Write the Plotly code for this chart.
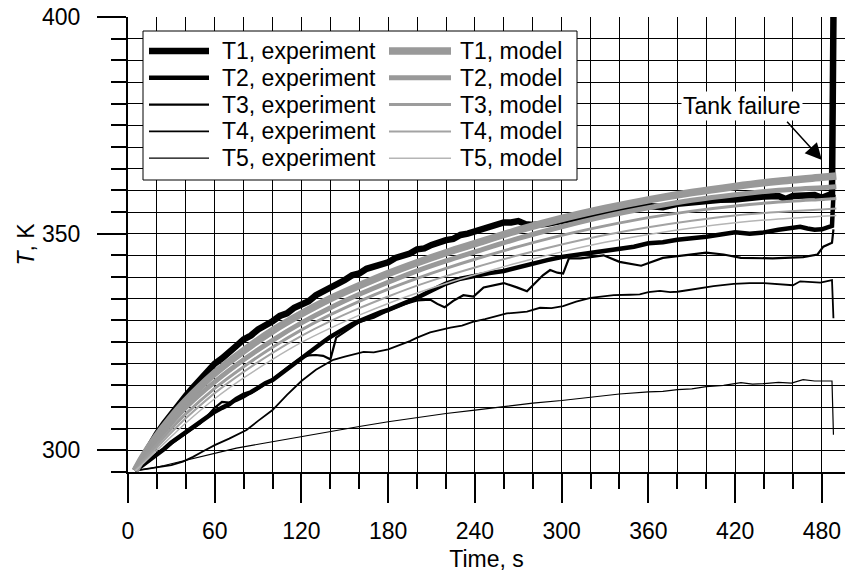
import plotly.graph_objects as go

# ---------------- data ----------------
# model curves (common time grid)
t_model = [5, 10, 20, 30, 40, 60, 80, 100, 120, 140, 160, 180, 200, 220, 240,
           270, 300, 330, 360, 390, 420, 450, 480, 490]
T1_model = [295.3, 298.3, 303.3, 307.6, 311.4, 317.8, 323.0, 327.6, 331.5, 335.0,
            338.0, 340.8, 343.3, 345.6, 347.7, 350.8, 353.5, 355.8, 357.8, 359.5,
            360.9, 362.1, 363.0, 363.3]
T2_model = [295.3, 297.8, 302.3, 306.3, 309.9, 315.8, 320.9, 325.4, 329.4, 332.9,
            336.0, 338.8, 341.4, 343.7, 345.8, 348.9, 351.6, 354.0, 356.0, 357.7,
            359.0, 360.0, 360.6, 360.8]
T3_model = [295.3, 297.4, 301.3, 305.0, 308.4, 314.3, 319.3, 323.8, 327.8, 331.3,
            334.4, 337.2, 339.7, 342.0, 344.1, 347.0, 349.6, 351.8, 353.7, 355.2,
            356.4, 357.3, 357.9, 358.1]
T4_model = [295.3, 297.0, 300.6, 304.1, 307.4, 313.2, 318.1, 322.5, 326.4, 329.8,
            332.8, 335.5, 338.0, 340.2, 342.2, 345.0, 347.5, 349.7, 351.5, 353.0,
            354.2, 355.0, 355.6, 355.8]
T5_model = [295.3, 296.8, 300.0, 303.2, 306.3, 311.9, 316.7, 321.0, 324.9, 328.2,
            331.2, 333.9, 336.3, 338.5, 340.5, 343.3, 345.8, 348.0, 349.8, 351.3,
            352.5, 353.4, 354.0, 354.2]

# experiments
t_exp1 = [5, 8, 12, 16, 20, 25, 30, 35, 40, 45, 50, 55, 60, 65, 70, 75, 80, 85, 90,
          95, 100, 105, 110, 115, 120, 125, 130, 135, 140, 145, 150, 155, 160, 165,
          170, 175, 180, 185, 190, 195, 200, 205, 210, 215, 220, 225, 230, 235, 240,
          245, 250, 255, 260, 265, 270, 275, 280, 290, 300, 310, 320, 330, 340, 350,
          360, 370, 380, 390, 400, 410, 420, 430, 440, 450, 455, 460, 470, 475, 480,
          485, 487, 488]
T1_exp = [295.3, 297.0, 299.5, 302.0, 303.8, 306.2, 308.5, 310.4, 312.6, 314.5, 316.5,
          318.3, 320.0, 321.2, 322.9, 324.1, 325.6, 326.5, 327.9, 328.7, 329.8, 331.0,
          331.6, 332.9, 333.8, 334.4, 335.8, 336.6, 337.7, 338.2, 339.3, 340.4, 340.8,
          341.9, 342.3, 343.0, 343.4, 344.4, 344.9, 345.4, 346.4, 346.6, 347.4, 348.1,
          348.5, 348.8, 349.7, 350.0, 350.5, 351.2, 351.4, 352.1, 352.6, 352.6, 352.9,
          352.2, 352.0, 352.3, 352.8, 353.6, 354.3, 354.9, 355.6, 356.2, 356.4, 356.1,
          356.9, 357.3, 357.5, 357.8, 357.9, 358.3, 358.6, 358.7, 358.0, 358.7, 359.0,
          358.9, 358.3, 359.1, 359.2, 400.0]

t_exp2 = [5, 10, 15, 20, 25, 30, 35, 40, 45, 50, 55, 60, 65, 70, 75, 80, 85, 90, 95,
          100, 105, 110, 115, 120, 125, 130, 135, 140, 145, 150, 155, 160, 165, 170,
          175, 180, 190, 200, 210, 220, 230, 240, 250, 260, 270, 280, 290, 300, 310,
          320, 330, 340, 350, 360, 370, 380, 390, 400, 410, 420, 430, 440, 450, 460,
          465, 470, 475, 480, 485, 487, 488]
T2_exp = [295.3, 296.5, 297.8, 299.2, 300.3, 301.8, 303.0, 304.0, 305.3, 306.5, 307.6,
          308.9, 309.8, 310.6, 311.9, 312.8, 313.4, 314.6, 315.5, 316.2, 317.5, 318.8,
          319.9, 321.2, 322.5, 323.8, 325.0, 326.2, 327.2, 328.2, 329.1, 329.8, 330.4,
          331.2, 331.9, 332.4, 333.8, 335.2, 336.9, 338.5, 339.6, 340.3, 340.9, 341.4,
          342.3, 343.2, 343.9, 344.6, 345.1, 345.4, 345.9, 346.5, 347.0, 347.8, 348.0,
          348.6, 348.9, 349.3, 349.8, 350.3, 350.0, 350.3, 350.9, 351.5, 351.6, 351.2,
          350.9, 351.0, 351.5, 351.8, 359.0]

t_exp3 = [5, 10, 15, 20, 25, 30, 40, 50, 55, 60, 65, 70, 75, 80, 90, 100, 110, 120,
          125, 130, 135, 140, 144, 150, 160, 170, 180, 190, 200, 209, 214, 219, 225,
          232, 239, 246, 260, 269, 276, 287, 292, 297, 301, 305, 313, 320, 329, 340,
          355, 370, 385, 400, 412, 424, 446, 467, 477, 481, 487, 488]
T3_exp = [295.3, 296.4, 297.6, 299.3, 300.2, 301.5, 303.8, 306.2, 307.9, 309.8, 311.2,
          311.0, 311.4, 312.2, 314.2, 316.4, 319.0, 321.4, 321.9, 322.0, 321.8, 321.0,
          326.0, 327.4, 329.6, 330.6, 332.2, 333.6, 334.6, 334.8, 333.8, 333.0, 334.5,
          335.8, 335.5, 337.6, 338.6, 337.6, 336.7, 340.4, 341.6, 341.0, 340.8, 344.3,
          344.3, 344.6, 345.0, 343.5, 342.6, 344.4, 345.0, 345.6, 345.2, 344.4, 344.3,
          344.6, 345.2, 347.0, 347.9, 351.0]

t_exp4 = [5, 15, 24, 30, 38, 45, 52, 60, 70, 82, 90, 100, 110, 120, 130, 142, 150, 163,
          170, 180, 195, 200, 209, 216, 223, 231, 239, 247, 255, 262, 269, 276, 285,
          293, 301, 310, 320, 327, 336, 347, 354, 360, 368, 375, 380, 388, 396, 405,
          419, 430, 440, 450, 460, 465, 472, 479, 487, 488]
T4_exp = [295.3, 295.8, 296.2, 296.6, 297.4, 298.5, 299.8, 301.2, 302.7, 304.7, 306.8,
          309.3, 312.8, 316.0, 318.6, 320.9, 321.6, 322.7, 322.6, 323.3, 325.2, 326.0,
          327.2, 327.8, 328.3, 328.8, 329.7, 330.3, 331.0, 331.6, 331.8, 332.0, 332.9,
          332.8, 333.3, 334.3, 335.2, 335.4, 335.8, 335.9, 336.0, 336.5, 336.8, 336.5,
          336.6, 337.0, 337.5, 337.9, 338.4, 338.6, 338.6, 338.4, 338.1, 339.0, 338.9,
          338.7, 339.3, 330.5]

t_exp5 = [5, 15, 25, 35, 45, 60, 75, 90, 105, 120, 140, 160, 180, 200, 220, 240, 260,
          280, 300, 320, 340, 360, 370, 380, 390, 400, 412, 424, 432, 440, 450, 459,
          467, 475, 482, 487, 488]
T5_exp = [295.3, 295.8, 296.5, 297.3, 298.2, 299.4, 300.5, 301.4, 302.3, 303.1, 304.3,
          305.5, 306.6, 307.6, 308.5, 309.3, 310.1, 310.9, 311.5, 312.3, 313.0, 313.5,
          313.6, 314.0, 314.2, 314.7, 315.0, 315.6, 315.3, 315.4, 315.7, 315.5, 316.3,
          316.0, 316.1, 316.0, 303.6]

exp_names = ["T1, experiment", "T2, experiment", "T3, experiment",
             "T4, experiment", "T5, experiment"]
model_names = ["T1, model", "T2, model", "T3, model", "T4, model", "T5, model"]

x_ticks = [0, 60, 120, 180, 240, 300, 360, 420, 480]
y_ticks = [300, 350, 400]

# ---------------- styles ----------------
exp_widths = [6.5, 4.5, 2.2, 1.8, 1.2]
model_widths = [7.5, 5.0, 3.0, 2.0, 1.5]
model_colors = ["#999999", "#999999", "#9c9c9c", "#a3a3a3", "#b5b5b5"]

FONT = "Liberation Sans, Arial, sans-serif"
FS = 23

fig = go.Figure()

exp_series = [(t_exp1, T1_exp), (t_exp2, T2_exp), (t_exp3, T3_exp),
              (t_exp4, T4_exp), (t_exp5, T5_exp)]
for (tt, TT), name, w in zip(exp_series, exp_names, exp_widths):
    fig.add_trace(go.Scatter(x=tt, y=TT, mode="lines", name=name,
                             line=dict(color="black", width=w),
                             showlegend=False))

model_series = [T1_model, T2_model, T3_model, T4_model, T5_model]
for TT, name, w, c in zip(model_series, model_names, model_widths, model_colors):
    fig.add_trace(go.Scatter(x=t_model, y=TT, mode="lines", name=name,
                             line=dict(color=c, width=w, shape="spline", smoothing=0.8),
                             showlegend=False))

# plot area in pixels: x 128..845, y 17..472
L, R, T, B = 128, 845, 17, 472
def px(xp):
    return (xp - L) / (R - L)
def py(yp):
    return (B - yp) / (B - T)

axis_common = dict(
    ticks="outside", ticklen=29, tickwidth=2, tickcolor="black",
    showgrid=True, gridcolor="black", gridwidth=1,
    showline=True, linecolor="black", linewidth=2, zeroline=False,
    automargin=False,
    tickfont=dict(family=FONT, size=FS, color="black"),
)

# ---------------- legend (boxed key: sample lines + labels) ----------------
shapes = [dict(type="rect", xref="paper", yref="paper",
               x0=px(143), x1=px(577), y0=py(180), y1=py(31),
               line=dict(color="black", width=1), fillcolor="white",
               layer="above")]
annotations = []
row_y = [51 + 26.8 * i for i in range(5)]
for i in range(5):
    yy = py(row_y[i])
    shapes.append(dict(type="line", xref="paper", yref="paper",
                       x0=px(149), x1=px(209), y0=yy, y1=yy, layer="above",
                       line=dict(color="black", width=exp_widths[i])))
    shapes.append(dict(type="line", xref="paper", yref="paper",
                       x0=px(389), x1=px(451), y0=yy, y1=yy, layer="above",
                       line=dict(color=model_colors[i], width=model_widths[i])))
    annotations.append(dict(x=px(220), y=yy, xref="paper", yref="paper",
                            xanchor="left", yanchor="middle", showarrow=False,
                            text=exp_names[i],
                            font=dict(family=FONT, size=FS, color="black")))
    annotations.append(dict(x=px(458), y=yy, xref="paper", yref="paper",
                            xanchor="left", yanchor="middle", showarrow=False,
                            text=model_names[i],
                            font=dict(family=FONT, size=FS, color="black")))

annotations += [
    dict(x=425, y=379.5, xref="x", yref="y", text="Tank failure",
         showarrow=False, bgcolor="white",
         font=dict(family=FONT, size=FS, color="black")),
    dict(x=480, y=367, xref="x", yref="y", text="",
         ax=455, ay=376.2, axref="x", ayref="y",
         showarrow=True, arrowhead=2, arrowsize=2.2, arrowwidth=1.5,
         arrowcolor="black"),
]

fig.update_layout(
    width=845, height=572,
    margin=dict(l=L, r=845 - R, t=T, b=572 - B),
    paper_bgcolor="white", plot_bgcolor="white",
    font=dict(family=FONT, size=FS, color="black"),
    showlegend=False,
    xaxis=dict(range=[0, 496], tickmode="array", tickvals=x_ticks,
               ticklabelstandoff=8,
               minor=dict(dtick=20, tick0=0, ticks="outside", ticklen=15,
                          tickwidth=2, tickcolor="black", showgrid=True,
                          gridcolor="black", gridwidth=1),
               title=dict(text="Time, s", font=dict(family=FONT, size=FS), standoff=8),
               **axis_common),
    yaxis=dict(range=[295, 400], tickmode="array", tickvals=y_ticks,
               ticklabelstandoff=12,
               minor=dict(dtick=5, tick0=0, ticks="outside", ticklen=15,
                          tickwidth=2, tickcolor="black", showgrid=True,
                          gridcolor="black", gridwidth=1),
               title=dict(text="<i>T</i>, K", font=dict(family=FONT, size=FS), standoff=1),
               **axis_common),
    shapes=shapes,
    annotations=annotations,
)

fig.write_html("out.html",
               config={"displayModeBar": False},
               post_script="document.body.style.margin='0px';"
                           "document.body.style.overflow='hidden';")
